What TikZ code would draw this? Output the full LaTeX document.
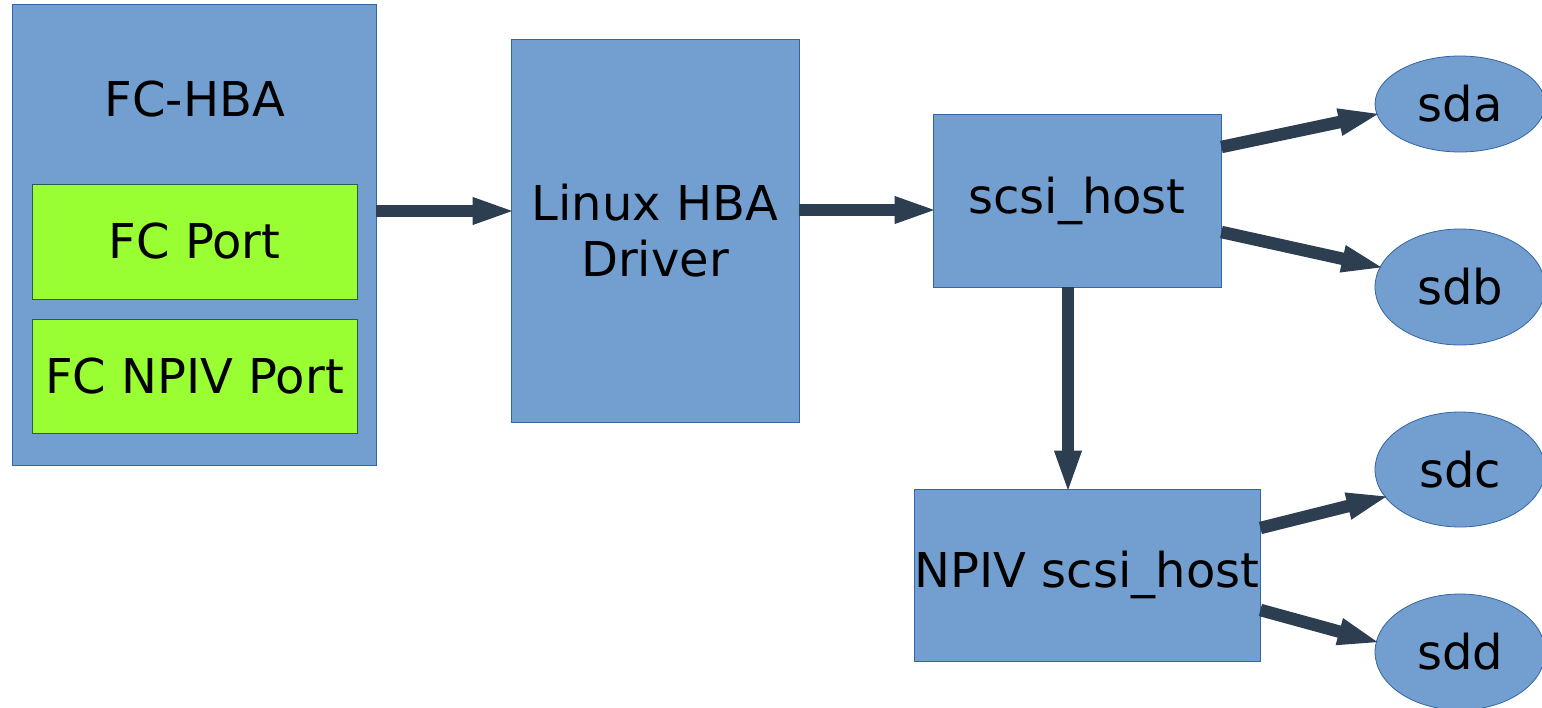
\documentclass[tikz,border=0pt]{standalone}
\usepackage{fontspec}
\setmainfont{DejaVu Sans}
\usetikzlibrary{shapes.geometric,arrows.meta}
\definecolor{boxblue}{HTML}{729FCF}
\definecolor{boxedge}{HTML}{3465A4}
\definecolor{portgreen}{HTML}{99FF33}
\definecolor{arrowdark}{HTML}{2C3E50}
\tikzset{
  bluebox/.style={draw=boxedge, fill=boxblue, line width=0.8pt, inner sep=0pt},
  greenbox/.style={draw=boxedge!70!portgreen!60!black, fill=portgreen, line width=0.8pt, inner sep=0pt},
  disk/.style={ellipse, draw=boxedge, fill=boxblue, line width=0.8pt, inner sep=0pt, minimum width=170pt},
  txt/.style={font=\fontsize{48}{56}\selectfont, text=black, inner sep=0pt},
  conn/.style={draw=arrowdark, line width=12.5pt, shorten >=-6pt, -{Triangle[length=44pt,width=24pt]}}
}
\begin{document}
\begin{tikzpicture}[x=1pt,y=-1pt]
\useasboundingbox[fill=white] (0,0) rectangle (1542,707);
% boxes
\node[bluebox, minimum width=364pt, minimum height=461pt] (fchba) at (194,234.5) {};
\node[txt] (fchbat) at (195,99) {FC-HBA};
\node[greenbox, minimum width=325pt, minimum height=115pt, txt] (fcport) at (194.5,241.5) {FC Port};
\node[greenbox, minimum width=325pt, minimum height=114pt, txt] (npivport) at (194.5,376) {FC NPIV Port};
\node[bluebox, minimum width=288pt, minimum height=383pt, txt, align=center] (linux) at (655,230.5) {Linux HBA\\Driver};
\node[bluebox, minimum width=288pt, minimum height=173pt, txt] (scsi) at (1077,200.5) {scsi\_host};
\node[bluebox, minimum width=346pt, minimum height=172pt, txt] (npiv) at (1087,575) {NPIV scsi\_host};
% disks
\node[disk, minimum height=96pt, txt] (sda) at (1460,104) {sda};
\node[disk, minimum height=116pt, txt] (sdb) at (1460,287) {sdb};
\node[disk, minimum height=115pt, txt] (sdc) at (1460,469.5) {sdc};
\node[disk, minimum height=116pt, txt] (sdd) at (1460,652) {sdd};
% connectors
\draw[conn] ([yshift=23.5pt]fchba.east) -- ([yshift=19.5pt]linux.west);
\draw[conn] ([yshift=20.5pt]linux.east) -- ([yshift=-9.5pt]scsi.west);
\draw[conn] ([yshift=53.5pt]scsi.east) -- (sda.187);
\draw[conn] ([yshift=-31.5pt]scsi.east) -- (sdb.166);
\draw[conn] ([xshift=-9pt]scsi.south) -- ([xshift=-19pt]npiv.north);
\draw[conn] ([yshift=47pt]npiv.east) -- (sdc.200);
\draw[conn] ([yshift=-35pt]npiv.east) -- (sdd.173);
\end{tikzpicture}
\end{document}
